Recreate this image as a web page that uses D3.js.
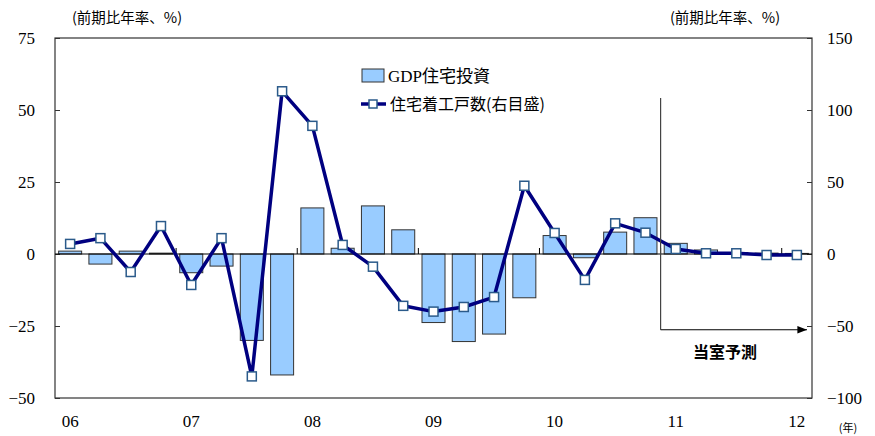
<!DOCTYPE html>
<html><head><meta charset="utf-8">
<script src="https://cdn.jsdelivr.net/npm/d3@7"></script>
<style>body{margin:0;background:#fff}svg{display:block}</style>
</head><body>
<svg id="c" width="875" height="436"></svg>
<script>
const quarters = ["06Q1","06Q2","06Q3","06Q4","07Q1","07Q2","07Q3","07Q4","08Q1","08Q2","08Q3","08Q4","09Q1","09Q2","09Q3","09Q4","10Q1","10Q2","10Q3","10Q4","11Q1","11Q2","11Q3","11Q4","12Q1"];
const gdpHousing = [1.0,-3.5,1.0,0.3,-6.5,-4.2,-30,-42,16,2,16.7,8.4,-23.8,-30.4,-27.8,-15.2,6.4,-1.3,7.6,12.6,3.7,1.4,0.5,0.3,0.2];
const housingStarts = [7,11,-12.5,19.4,-21.5,11,-85,113,89,6.3,-8.8,-36,-40,-36.8,-29.9,47.4,14.6,-18,21.3,14.8,3.5,0.5,0.5,-0.7,-0.7];
const yearLabels = ["06","07","08","09","10","11","12"];
const leftTicks = [-50,-25,0,25,50,75];
const rightTicks = [-100,-50,0,50,100,150];
const seriesNames = ["GDP住宅投資","住宅着工戸数(右目盛)"];
const axisTitle = "(前期比年率、%)";
const forecastLabel = "当室予測";
const forecastStart = "11Q1";

const L=55,R=812,T=38,B=398;
const svg=d3.select("#c");
const serif="'Liberation Serif','Times New Roman','Noto Sans CJK JP',serif";
const jp="'Noto Sans CJK JP',sans-serif";

const x=d3.scaleBand().domain(quarters).range([L,R]).paddingInner(0.24).paddingOuter(0.12);
const step=x.step();
const cx=q=>x(q)+x.bandwidth()/2;
const yL=d3.scaleLinear().domain([-50,75]).range([B,T]);
const yR=d3.scaleLinear().domain([-100,150]).range([B,T]);

// frame
svg.append("rect").attr("x",L).attr("y",T).attr("width",R-L).attr("height",B-T)
  .attr("fill","none").attr("stroke","#333").attr("stroke-width",1.2);

// left axis
const la=svg.append("g").attr("transform",`translate(${L},0)`)
  .call(d3.axisLeft(yL).tickValues(leftTicks).tickSize(-5).tickPadding(20));
la.select(".domain").remove();
la.selectAll("line").attr("stroke","#333");
la.selectAll("text").attr("font-family",serif).attr("font-size",17).attr("fill","#000");

const ra=svg.append("g").attr("transform",`translate(${R},0)`)
  .call(d3.axisRight(yR).tickValues(rightTicks).tickSize(-5).tickPadding(15));
ra.select(".domain").remove();
ra.selectAll("line").attr("stroke","#333");
ra.selectAll("text").attr("font-family",serif).attr("font-size",17).attr("fill","#000");

// bars
svg.append("g").selectAll("rect").data(quarters).join("rect")
  .attr("x",q=>x(q))
  .attr("y",(q,i)=>yL(Math.max(0,gdpHousing[i])))
  .attr("width",x.bandwidth())
  .attr("height",(q,i)=>Math.abs(yL(gdpHousing[i])-yL(0)))
  .attr("fill","#99ccff").attr("stroke","#333").attr("stroke-width",1);

// zero line
svg.append("line").attr("x1",L).attr("x2",R).attr("y1",yL(0)).attr("y2",yL(0))
  .attr("stroke","#000").attr("stroke-width",1.2);
// year boundary ticks
const bounds=quarters.filter(q=>q.endsWith("Q1")).slice(1).map(q=>x(q)-(step-x.bandwidth())/2);
svg.append("g").selectAll("line").data(bounds).join("line")
  .attr("x1",d=>d).attr("x2",d=>d).attr("y1",yL(0)).attr("y2",yL(0)-6)
  .attr("stroke","#000").attr("stroke-width",1);

// line
svg.append("path").datum(quarters)
  .attr("d",d3.line().x(q=>cx(q)).y((q,i)=>yR(housingStarts[i])))
  .attr("fill","none").attr("stroke","#000080").attr("stroke-width",3.5).attr("stroke-linejoin","round");
svg.append("g").selectAll("rect").data(quarters).join("rect")
  .attr("x",q=>cx(q)-4.5).attr("y",(q,i)=>yR(housingStarts[i])-4.5)
  .attr("width",9).attr("height",9)
  .attr("fill","#fff").attr("stroke","#2a5a8a").attr("stroke-width",1.5);

// x labels
svg.append("g").selectAll("text").data(yearLabels).join("text")
  .attr("x",d=>cx(d+"Q1")).attr("y",427).attr("text-anchor","middle")
  .attr("font-family",serif).attr("font-size",17).text(d=>d);
svg.append("text").attr("x",848).attr("y",432).attr("text-anchor","middle")
  .attr("font-family",jp).attr("font-size",11).text("(年)");

// axis titles
svg.append("text").attr("x",127).attr("y",23).attr("text-anchor","middle")
  .attr("font-family",jp).attr("font-size",14.5).text(axisTitle);
svg.append("text").attr("x",725).attr("y",23).attr("text-anchor","middle")
  .attr("font-family",jp).attr("font-size",14.5).text(axisTitle);

// legend
svg.append("rect").attr("x",362).attr("y",69).attr("width",22).attr("height",13)
  .attr("fill","#99ccff").attr("stroke","#333").attr("stroke-width",1);
svg.append("text").attr("x",388).attr("y",82).attr("font-family",serif).attr("font-size",17).text(seriesNames[0]);
svg.append("line").attr("x1",361).attr("x2",386).attr("y1",104).attr("y2",104)
  .attr("stroke","#000080").attr("stroke-width",3.5);
svg.append("rect").attr("x",369).attr("y",100).attr("width",8).attr("height",8)
  .attr("fill","#fff").attr("stroke","#2a5a8a").attr("stroke-width",1.5);
svg.append("text").attr("x",390).attr("y",110).attr("font-family",jp).attr("font-size",16).text(seriesNames[1]);

// forecast marker
const fx=x(forecastStart)-(step-x.bandwidth())/2;
const ay=yL(-26.3);
svg.append("defs").append("marker").attr("id","ah").attr("viewBox","0 0 10 10")
  .attr("refX",10).attr("refY",5).attr("markerWidth",8).attr("markerHeight",8).attr("orient","auto")
  .append("path").attr("d","M0,1 L10,5 L0,9 Z").attr("fill","#000");
svg.append("line").attr("x1",fx).attr("x2",fx).attr("y1",yL(54.2)).attr("y2",ay)
  .attr("stroke","#444").attr("stroke-width",1.2);
svg.append("line").attr("x1",fx).attr("x2",R-5).attr("y1",ay).attr("y2",ay)
  .attr("stroke","#000").attr("stroke-width",1.2).attr("marker-end","url(#ah)");
svg.append("text").attr("x",725).attr("y",358).attr("text-anchor","middle")
  .attr("font-family",jp).attr("font-size",16).attr("font-weight","bold").text(forecastLabel);
</script>
</body></html>
